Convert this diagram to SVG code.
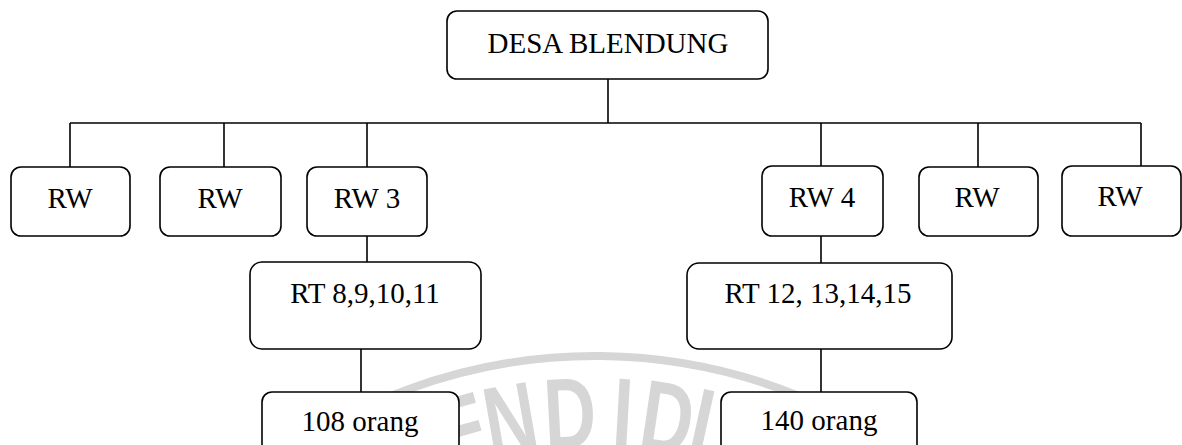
<svg xmlns="http://www.w3.org/2000/svg" width="1182" height="445" viewBox="0 0 1182 445">
<style>
.box{fill:#fff;stroke:#000;stroke-width:1.6}
.ln{stroke:#000;stroke-width:1.6;fill:none}
.t{font-family:"Liberation Serif","Times New Roman",serif;font-size:29px;fill:#000;text-anchor:middle}
.wm{font-family:"Liberation Sans",Arial,sans-serif;font-weight:bold;font-size:100px;fill:#d6d6d6;text-anchor:middle}
</style>
<rect width="1182" height="445" fill="#fff"/>
<g id="watermark">
<path d="M 250 480.3 A 541 541 0 0 1 950 488.8" fill="none" stroke="#d6d6d6" stroke-width="8"/>
<text class="wm" transform="translate(472.4,463.5) rotate(-15.6) scale(0.72,1)">E</text>
<text class="wm" transform="translate(516.3,453.6) rotate(-9.9) scale(0.72,1)">N</text>
<text class="wm" transform="translate(571.7,447.6) rotate(-3) scale(0.72,1)">D</text>
<text class="wm" transform="translate(621,447.7) rotate(3.2) scale(0.72,1)">I</text>
<text class="wm" transform="translate(662.5,451.8) rotate(8.4) scale(0.72,1)">D</text>
<text class="wm" transform="translate(694.5,457.5) rotate(12.4) scale(0.72,1)">I</text>
</g>
<g id="connectors">
<line class="ln" x1="608" y1="79" x2="608" y2="123"/>
<line class="ln" x1="70" y1="123" x2="1141" y2="123"/>
<line class="ln" x1="70" y1="123" x2="70" y2="167"/>
<line class="ln" x1="224" y1="123" x2="224" y2="167"/>
<line class="ln" x1="367" y1="123" x2="367" y2="167"/>
<line class="ln" x1="821" y1="123" x2="821" y2="166"/>
<line class="ln" x1="978" y1="123" x2="978" y2="167"/>
<line class="ln" x1="1141" y1="123" x2="1141" y2="170"/>
<line class="ln" x1="367" y1="236" x2="367" y2="262"/>
<line class="ln" x1="361" y1="349" x2="361" y2="392"/>
<line class="ln" x1="821" y1="236" x2="821" y2="263"/>
<line class="ln" x1="821" y1="349" x2="821" y2="392"/>
</g>
<g id="desa"><rect class="box" x="447" y="11" width="321" height="68" rx="10"/><text class="t" x="608" y="53">DESA BLENDUNG</text></g>
<g id="rw1"><rect class="box" x="11" y="167" width="119" height="69" rx="10"/><text class="t" x="70" y="208">RW</text></g>
<g id="rw2"><rect class="box" x="160" y="167" width="121" height="69" rx="10"/><text class="t" x="220" y="208">RW</text></g>
<g id="rw3"><rect class="box" x="307" y="167" width="120" height="69" rx="10"/><text class="t" x="367" y="208">RW 3</text></g>
<g id="rw4"><rect class="box" x="762" y="166" width="121" height="70" rx="10"/><text class="t" x="822" y="207">RW 4</text></g>
<g id="rw5"><rect class="box" x="919" y="167" width="119" height="69" rx="10"/><text class="t" x="977" y="207">RW</text></g>
<g id="rw6"><rect class="box" x="1062" y="166" width="119" height="70" rx="10"/><text class="t" x="1120" y="206">RW</text></g>
<g id="rt1"><rect class="box" x="250" y="262" width="231" height="87" rx="12"/><text class="t" x="365" y="303">RT 8,9,10,11</text></g>
<g id="rt2"><rect class="box" x="687" y="263" width="265" height="86" rx="12"/><text class="t" x="818" y="303">RT 12, 13,14,15</text></g>
<g id="pop1"><rect class="box" x="262" y="392" width="197" height="80" rx="10"/><text class="t" x="360" y="431">108 orang</text></g>
<g id="pop2"><rect class="box" x="721" y="392" width="196" height="80" rx="10"/><text class="t" x="819" y="430">140 orang</text></g>
</svg>
